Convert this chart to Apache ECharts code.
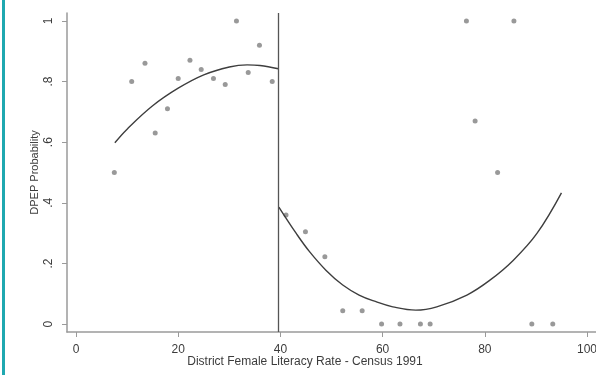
<!DOCTYPE html>
<html>
<head>
<meta charset="utf-8">
<script src="https://cdn.jsdelivr.net/npm/echarts@6/dist/echarts.min.js"></script>
<style>
html,body{margin:0;padding:0;background:#fff;}
#chart{width:596px;height:375px;}
</style>
</head>
<body>
<div id="chart"></div>
<script>
// Scatter points: [literacy rate, DPEP probability]
var pointsLeft = [
  [7.5, 0.50], [10.9, 0.80], [13.5, 0.86], [15.5, 0.63], [17.9, 0.71],
  [20.0, 0.81], [22.3, 0.87], [24.5, 0.84], [26.9, 0.81], [29.2, 0.79],
  [31.4, 1.00], [33.7, 0.83], [35.9, 0.92], [38.4, 0.80]
];
var pointsRight = [
  [41.1, 0.36], [44.9, 0.305], [48.7, 0.222], [52.2, 0.044], [56.0, 0.044],
  [59.8, 0.0], [63.4, 0.0], [67.4, 0.0], [69.3, 0.0], [76.4, 1.0],
  [78.1, 0.67], [82.5, 0.50], [85.7, 1.0], [89.2, 0.0], [93.3, 0.0]
];
// Fitted curves
var fitLeft = [
  [7.6, 0.598], [10, 0.643], [15, 0.720], [20, 0.778], [25, 0.822],
  [30, 0.848], [33.5, 0.855], [36, 0.853], [39.6, 0.842]
];
var fitRight = [
  [39.7, 0.386], [43.1, 0.299], [45.7, 0.239], [48.9, 0.178], [52.2, 0.129],
  [55.4, 0.096], [58.7, 0.074], [62.0, 0.057], [66.5, 0.046], [70.6, 0.057],
  [76.5, 0.096], [81.0, 0.145], [85.6, 0.211], [90.2, 0.299], [95.0, 0.433]
];
var cutoff = 39.6;
var xTicks = [0, 20, 40, 60, 80, 100];
var yTicks = [0, 0.2, 0.4, 0.6, 0.8, 1];
var yTickLabels = ['0', '.2', '.4', '.6', '.8', '1'];
var xTitle = 'District Female Literacy Rate - Census 1991';
var yTitle = 'DPEP Probability';

var chart = echarts.init(document.getElementById('chart'), null, {renderer: 'canvas'});
var font = 'Liberation Sans, Arial, Helvetica, sans-serif';
var axisGray = '#9a9a9a';
var textColor = '#3c3c3c';

function yFmt(v) {
  for (var i = 0; i < yTicks.length; i++) {
    if (Math.abs(yTicks[i] - v) < 1e-9) return yTickLabels[i];
  }
  return '';
}

chart.setOption({
  animation: false,
  backgroundColor: '#ffffff',
  grid: {left: 67, right: 0, top: 13, bottom: 43, containLabel: false, outerBoundsMode: 'none'},
  xAxis: {
    type: 'value', min: -1.76, max: 101.76,
    axisLine: {show: true, onZero: false, lineStyle: {color: axisGray, width: 1.5}},
    axisTick: {show: true, length: 5, customValues: xTicks, lineStyle: {color: axisGray, width: 1}},
    axisLabel: {show: true, customValues: xTicks, margin: 12, color: textColor, fontSize: 12, fontFamily: font,
      showMinLabel: true, showMaxLabel: true, hideOverlap: false},
    splitLine: {show: false}
  },
  yAxis: {
    type: 'value', min: -0.026, max: 1.026,
    axisLine: {show: true, onZero: false, lineStyle: {color: axisGray, width: 1.5}},
    axisTick: {show: true, length: 5, customValues: yTicks, lineStyle: {color: axisGray, width: 1}},
    axisLabel: {show: true, customValues: yTicks, rotate: 90, margin: 12, color: textColor, fontSize: 12,
      fontFamily: font, formatter: yFmt},
    splitLine: {show: false},
    name: yTitle, nameLocation: 'middle', nameGap: 27, nameMoveOverlap: false,
    nameTextStyle: {color: textColor, fontSize: 11, fontFamily: font}
  },
  graphic: [
    {type: 'rect', left: 2, top: 0, shape: {width: 3, height: 375}, style: {fill: '#1fa8b0'}, silent: true},
    {type: 'text', x: 305, y: 362, style: {text: xTitle, fill: textColor, font: '12px ' + font,
      textAlign: 'center', textVerticalAlign: 'middle'}}
  ],
  series: [
    {
      type: 'scatter', data: pointsLeft,
      symbolSize: 5, itemStyle: {color: '#7f7f7f'}
    },
    {
      type: 'scatter', data: pointsRight,
      symbolSize: 5, itemStyle: {color: '#7f7f7f'}
    },
    {
      type: 'line', data: fitLeft, smooth: 0.4,
      showSymbol: false, lineStyle: {color: '#3e3e3e', width: 1.4}
    },
    {
      type: 'line', data: fitRight, smooth: 0.4,
      showSymbol: false, lineStyle: {color: '#3e3e3e', width: 1.4},
      markLine: {
        silent: true, symbol: ['none', 'none'], label: {show: false},
        lineStyle: {color: '#555555', width: 1.3, type: 'solid'},
        data: [{xAxis: cutoff}]
      }
    }
  ]
});
</script>
</body>
</html>
